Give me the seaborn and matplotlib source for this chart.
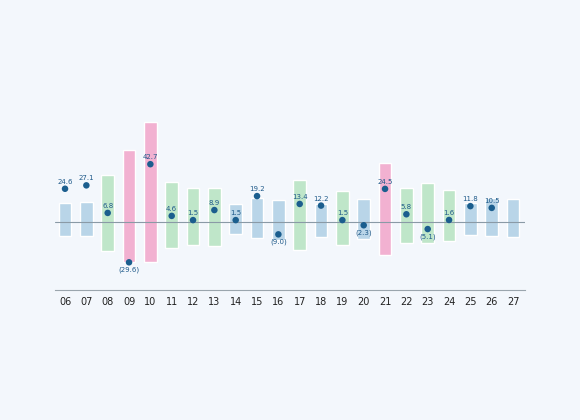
import matplotlib
matplotlib.use("Agg")
import matplotlib.pyplot as plt
import seaborn as sns
import numpy as np
import pandas as pd

years = ["06","07","08","09","10","11","12","13","14","15","16","17","18","19","20","21","22","23","24","25","26","27"]
bar_high = [14.1,14.8,34.8,53.3,74.1,29.6,25.2,25.2,13.3,17.8,16.3,31.1,13.3,23.0,17.0,43.7,25.2,28.9,23.7,14.1,17.8,17.0]
bar_low = [-10.4,-10.4,-21.5,-29.6,-29.6,-19.3,-17.0,-17.8,-8.9,-11.9,-13.3,-20.7,-11.1,-17.0,-12.6,-24.4,-15.6,-15.6,-14.1,-9.6,-10.4,-11.1]
kind = ["b","b","g","p","p","g","g","g","b","b","b","g","b","g","b","p","g","g","g","b","b","b"]
point_years = years[:-1]
point_vals = [24.6,27.1,6.8,-29.6,42.7,4.6,1.5,8.9,1.5,19.2,-9.0,13.4,12.2,1.5,-2.3,24.5,5.8,-5.1,1.6,11.8,10.5]

colors = {"b": "#b9d5e8", "g": "#bfe6c9", "p": "#f2b1d1"}
bg = "#f3f7fc"
sns.set_style("white")
fig = plt.figure(figsize=(5.8, 4.2), dpi=100, facecolor=bg)
ax = fig.add_axes([55/580, 130/420, 470/580, 190/420], facecolor=bg)

x = np.arange(len(years))
ax.bar(x, np.array(bar_high) - np.array(bar_low), bottom=bar_low, width=0.6,
       color=[colors[k] for k in kind], zorder=1)
ax.axhline(0, color="#8a9aa6", lw=0.8, zorder=2)
df = pd.DataFrame({"x": x[:len(point_vals)], "v": point_vals})
sns.scatterplot(data=df, x="x", y="v", ax=ax, color="#1b5e8e", s=22, edgecolor="none", zorder=3)
for xi, v in zip(df["x"], point_vals):
    if v >= 0:
        ax.text(xi, v + 3, f"{v:.1f}", ha="center", va="bottom", fontsize=5, color="#1f5a8a")
    else:
        ax.text(xi, v - 3, f"({abs(v):.1f})", ha="center", va="top", fontsize=5, color="#1f5a8a")

ax.set_xlim(-0.47, 21.56)
ax.set_ylim(-50, 90)
ax.set_xticks(x)
ax.set_xticklabels(years, fontsize=7, color="#222222")
ax.set_yticks([])
ax.set_xlabel(""); ax.set_ylabel("")
for s in ["top", "right", "left"]:
    ax.spines[s].set_visible(False)
ax.spines["bottom"].set_color("#9aa5ad")
ax.spines["bottom"].set_linewidth(0.8)
ax.tick_params(axis="x", length=0, pad=5)
fig.savefig("out.png", dpi=100, facecolor=bg)
